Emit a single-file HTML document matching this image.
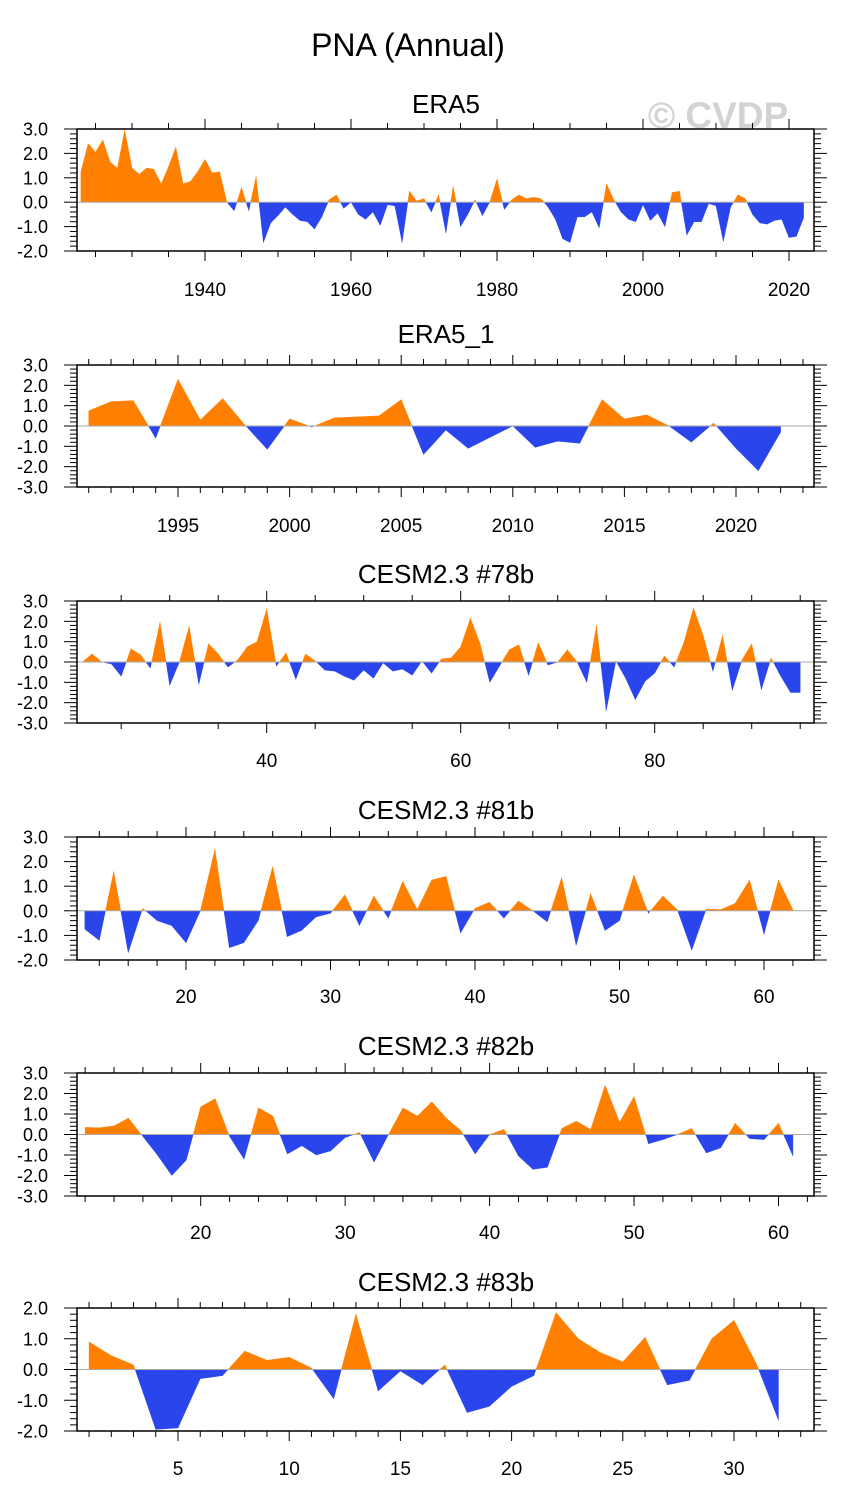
<!DOCTYPE html>
<html><head><meta charset="utf-8"><style>
html,body{margin:0;padding:0;background:#fff;}
svg{display:block;font-family:"Liberation Sans",Helvetica,Arial,sans-serif;}
</style></head><body>
<svg id="fig" width="845" height="1506" viewBox="0 0 845 1506" xmlns="http://www.w3.org/2000/svg">
<text x="408" y="56" font-size="32" text-anchor="middle">PNA (Annual)</text>
<text x="718" y="128" font-size="37" font-weight="bold" fill="#d3d3d3" text-anchor="middle">© CVDP</text>
</svg>
<script>
// ---- data arrays ----
const era5Start = 1923;
const era5Values = [1.25,2.4,2.05,2.55,1.65,1.4,2.95,1.4,1.15,1.4,
1.35,0.75,1.45,2.25,0.75,0.85,1.25,1.75,1.2,1.25,
0.0,-0.35,0.6,-0.35,1.05,-1.65,-0.85,-0.55,-0.2,-0.5,
-0.75,-0.8,-1.1,-0.6,0.1,0.3,-0.25,0.0,-0.5,-0.7,
-0.4,-0.95,-0.1,-0.15,-1.65,0.45,0.05,0.15,-0.4,0.3,
-1.25,0.65,-1.0,-0.5,0.1,-0.55,0.0,0.95,-0.3,0.1,
0.3,0.15,0.2,0.15,-0.2,-0.7,-1.5,-1.65,-0.6,-0.6,
-0.4,-1.05,0.75,0.1,-0.4,-0.7,-0.8,-0.1,-0.75,-0.45,
-1.0,0.4,0.45,-1.35,-0.8,-0.8,-0.05,-0.15,-1.6,-0.2,
0.3,0.15,-0.5,-0.85,-0.9,-0.75,-0.7,-1.45,-1.4,-0.65];
const era51Start = 1991;
const era51Values = [0.75,1.2,1.25,-0.6,2.3,0.3,1.35,0.05,-1.15,0.35,
-0.05,0.4,0.45,0.5,1.3,-1.4,-0.2,-1.1,-0.55,0.0,
-1.05,-0.75,-0.85,1.3,0.35,0.55,0.0,-0.8,0.15,-1.1,-2.2,-0.3];
const m78Start = 21;
const m78Values = [0.0,0.4,0.0,-0.1,-0.7,0.65,0.35,-0.3,1.95,-1.15,
0.0,1.75,-1.1,0.9,0.4,-0.25,0.1,0.75,1.0,2.6,
-0.2,0.45,-0.85,0.4,0.05,-0.4,-0.45,-0.7,-0.9,-0.4,
-0.8,-0.05,-0.45,-0.35,-0.65,0.05,-0.55,0.15,0.2,0.75,
2.15,0.9,-1.0,-0.2,0.6,0.85,-0.65,0.95,-0.15,0.0,
0.6,0.0,-1.0,1.8,-2.4,0.05,-0.8,-1.85,-0.95,-0.55,
0.3,-0.25,0.95,2.65,1.3,-0.45,1.3,-1.4,0.1,0.9,
-1.35,0.2,-0.7,-1.5,-1.5];
const m81Start = 13;
const m81Values = [-0.75,-1.2,1.6,-1.7,0.1,-0.4,-0.6,-1.3,0.0,2.5,
-1.5,-1.3,-0.4,1.8,-1.05,-0.8,-0.25,-0.1,0.65,-0.6,
0.6,-0.3,1.2,0.05,1.25,1.4,-0.9,0.1,0.35,-0.3,
0.4,0.0,-0.45,1.35,-1.4,0.7,-0.8,-0.4,1.45,-0.1,
0.6,0.05,-1.6,0.07,0.05,0.3,1.25,-0.95,1.25,0.05];
const m82Start = 12;
const m82Values = [0.35,0.33,0.42,0.8,-0.1,-1.0,-2.0,-1.25,1.35,1.75,
-0.1,-1.2,1.3,0.9,-0.95,-0.55,-1.0,-0.8,-0.15,0.1,
-1.35,0.0,1.3,0.9,1.6,0.8,0.2,-0.95,0.0,0.25,
-1.05,-1.7,-1.6,0.3,0.65,0.25,2.4,0.6,1.85,-0.45,
-0.25,0.0,0.3,-0.9,-0.65,0.55,-0.2,-0.25,0.55,-1.05];
const m83Start = 1;
const m83Values = [0.9,0.45,0.15,-1.95,-1.9,-0.3,-0.2,0.6,0.3,0.4,
0.05,-0.95,1.8,-0.7,-0.05,-0.5,0.15,-1.4,-1.2,-0.55,
-0.2,1.85,1.0,0.55,0.25,1.05,-0.5,-0.35,1.0,1.6,0.2,-1.65];
const p1Ticks = [1940,1960,1980,2000,2020];
const p2Ticks = [1995,2000,2005,2010,2015,2020];
const p3Ticks = [40,60,80];
const p4Ticks = [20,30,40,50,60];
const p5Ticks = [20,30,40,50,60];
const p6Ticks = [5,10,15,20,25,30];

const NS='http://www.w3.org/2000/svg';
const svg=document.getElementById('fig');
function mk(tag,attrs,parent){const e=document.createElementNS(NS,tag);for(const k in attrs)e.setAttribute(k,attrs[k]);(parent||svg).appendChild(e);return e;}

const panels=[
 {name:'era5',title:'ERA5',top:129,bot:251,ymin:-2,ymax:3,start:era5Start,vals:era5Values,t0:1940,tx0:205,t1:2020,tx1:789,ticks:p1Ticks,minor:5,titleY:113,labY:296},
 {name:'era5-1',title:'ERA5_1',top:365,bot:487,ymin:-3,ymax:3,start:era51Start,vals:era51Values,t0:1995,tx0:178,t1:2020,tx1:736,ticks:p2Ticks,minor:1,titleY:343,labY:532},
 {name:'cesm-78b',title:'CESM2.3 #78b',top:601,bot:723,ymin:-3,ymax:3,start:m78Start,vals:m78Values,t0:40,tx0:266.7,t1:80,tx1:654.7,ticks:p3Ticks,minor:5,titleY:583,labY:767},
 {name:'cesm-81b',title:'CESM2.3 #81b',top:837,bot:960,ymin:-2,ymax:3,start:m81Start,vals:m81Values,t0:20,tx0:186,t1:60,tx1:764,ticks:p4Ticks,minor:2,titleY:819,labY:1003},
 {name:'cesm-82b',title:'CESM2.3 #82b',top:1073,bot:1196,ymin:-3,ymax:3,start:m82Start,vals:m82Values,t0:20,tx0:200.7,t1:60,tx1:778.5,ticks:p5Ticks,minor:2,titleY:1055,labY:1239},
 {name:'cesm-83b',title:'CESM2.3 #83b',top:1308,bot:1431,ymin:-2,ymax:2,start:m83Start,vals:m83Values,t0:5,tx0:178,t1:30,tx1:734,ticks:p6Ticks,minor:1,titleY:1291,labY:1475}
];
const L=77,R=814;

panels.forEach(p=>{
 const g=mk('g',{});
 
 
 const xs=v=>p.tx0+(v-p.t0)*(p.tx1-p.tx0)/(p.t1-p.t0);
 const ys=v=>p.bot-(v-p.ymin)*(p.bot-p.top)/(p.ymax-p.ymin);
 const t=mk('text',{x:446,y:p.titleY,'font-size':26,'text-anchor':'middle'},g);
 t.textContent=p.title;
 
 
 const z=ys(0);
 const pts=p.vals.map((v,i)=>[xs(p.start+i),v]);
 let pos='',neg='';
 for(let i=0;i<pts.length-1;i++){
  const [x0,v0]=pts[i],[x1,v1]=pts[i+1];
  if((v0>=0&&v1>=0)||(v0<=0&&v1<=0)){
   const poly=`M${x0},${z}L${x0},${ys(v0)}L${x1},${ys(v1)}L${x1},${z}Z`;
   if(v0+v1>=0)pos+=poly;else neg+=poly;
  }else{
   const xc=x0+(x1-x0)*v0/(v0-v1);
   const a=`M${x0},${z}L${x0},${ys(v0)}L${xc},${z}Z`;
   const b=`M${xc},${z}L${x1},${ys(v1)}L${x1},${z}Z`;
   if(v0>0){pos+=a;neg+=b;}else{neg+=a;pos+=b;}
  }
 }
 const fp=mk('path',{d:pos,fill:'#ff8000',stroke:'#ff8000','stroke-width':0.4},g);
 
 
 const fn=mk('path',{d:neg,fill:'#2a45eb',stroke:'#2a45eb','stroke-width':0.4},g);
 
 
 const zl=mk('line',{x1:L,x2:R,y1:z,y2:z,stroke:'#aaa','stroke-width':1},g);
 
 
 const fr=mk('rect',{x:L,y:p.top,width:R-L,height:p.bot-p.top,fill:'none',stroke:'#000','stroke-width':1.5},g);
 
 
 const tx=mk('g',{stroke:'#000','stroke-width':1},g);
 
 
 const per=(p.tx1-p.tx0)/(p.t1-p.t0);
 const vlo=Math.ceil((p.t0-(p.tx0-L)/per)/p.minor)*p.minor;
 const vhi=p.t0+(R-p.tx0)/per;
 for(let v=vlo;v<=vhi;v+=p.minor){
  const x=xs(v);const major=p.ticks.includes(v);const len=major?10:6;
  mk('line',{x1:x,x2:x,y1:p.bot,y2:p.bot+len},tx);
  mk('line',{x1:x,x2:x,y1:p.top,y2:p.top-len},tx);
 }
 p.ticks.forEach(v=>{
  const lb=mk('text',{x:xs(v),y:p.labY,'font-size':19,'text-anchor':'middle'},g);
  lb.textContent=String(v);
  
  
 });
 const ty=mk('g',{stroke:'#000','stroke-width':1},g);
 
 
 for(let k=Math.round(p.ymin*5);k<=Math.round(p.ymax*5);k++){
  const y=ys(k/5);const major=k%5===0;const len=major?13:7;
  mk('line',{x1:L,x2:L-len,y1:y,y2:y},ty);
  mk('line',{x1:R,x2:R+len,y1:y,y2:y},ty);
 }
 for(let v=p.ymin;v<=p.ymax;v++){
  const lb=mk('text',{x:48,y:ys(v)+6.5,'font-size':18,'text-anchor':'end'},g);
  lb.textContent=v.toFixed(1);
  
  
 }
});
</script>
</body></html>
